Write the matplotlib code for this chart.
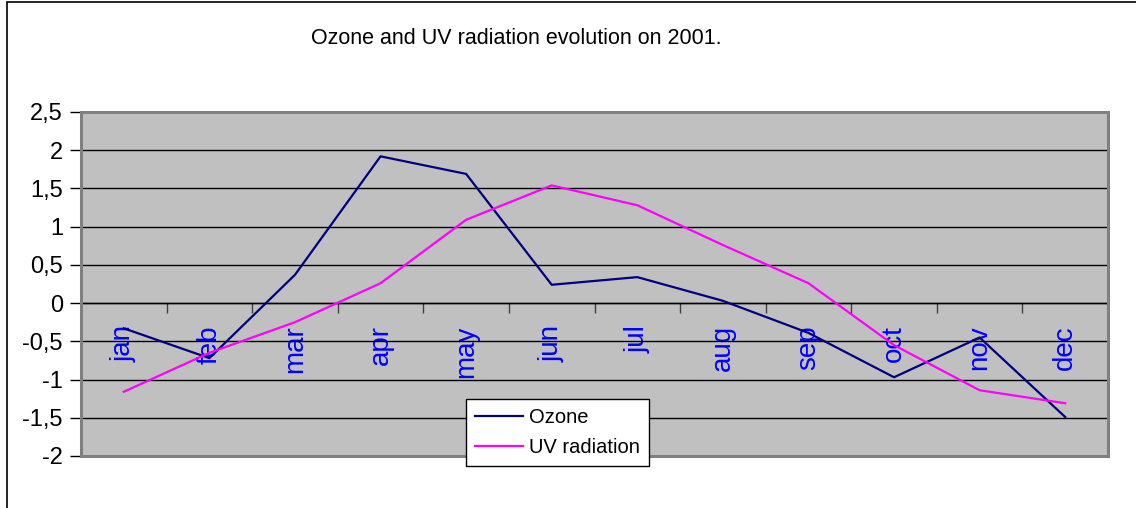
import matplotlib
matplotlib.use("Agg")
import matplotlib.pyplot as plt
from matplotlib.patches import Rectangle
from matplotlib.ticker import MultipleLocator, FixedLocator, FuncFormatter

months = ["jan", "feb", "mar", "apr", "may", "jun", "jul", "aug", "sep", "oct", "nov", "dec"]
ozone = [-0.33, -0.72, 0.37, 1.92, 1.69, 0.24, 0.34, 0.03, -0.39, -0.97, -0.45, -1.49]
uv = [-1.16, -0.65, -0.25, 0.26, 1.09, 1.54, 1.28, 0.76, 0.26, -0.55, -1.14, -1.31]
title = "Ozone and UV radiation evolution on 2001."

plt.rcParams['font.family'] = ['Liberation Sans', 'DejaVu Sans']

fig = plt.figure(figsize=(11.36, 5.08), dpi=100)
W, H = 1136, 508
ax = fig.add_axes([81 / W, 1 - 456 / H, (1108 - 81) / W, (456 - 112) / H])
ax.set_facecolor('#C0C0C0')

x = list(range(len(months)))
ax.plot(x, ozone, color='#000080', lw=1.6, label='Ozone', zorder=3)
ax.plot(x, uv, color='#FF00FF', lw=1.6, label='UV radiation', zorder=3)

ax.set_xlim(-0.5, len(months) - 0.5)
ax.set_ylim(-2, 2.5)
ax.yaxis.set_major_locator(MultipleLocator(0.5))
ax.yaxis.set_major_formatter(FuncFormatter(lambda v, p: ('%g' % v).replace('.', ',')))
ax.grid(axis='y', color='black', lw=1.0, zorder=1)
ax.set_axisbelow(True)

# x axis on the zero line
for s in ['top', 'right', 'left']:
    ax.spines[s].set_visible(False)
ax.spines['bottom'].set_position(('data', 0))
ax.spines['bottom'].set_color('black')
ax.spines['bottom'].set_linewidth(1.0)
ax.spines['bottom'].set_zorder(2)

ax.set_xticks(x)
ax.set_xticklabels(months, rotation=90, color='#0000FF', fontsize=20)
ax.tick_params(axis='x', which='major', length=0, pad=16)
ax.xaxis.set_minor_locator(FixedLocator([i - 0.5 for i in range(len(months) + 1)]))
ax.tick_params(axis='x', which='minor', length=7, width=1, color='#404040', direction='out')

ax.tick_params(axis='y', length=8, width=1, color='black', labelsize=17, pad=5)

# plot area frame
frame = Rectangle((0, 0), 1, 1, transform=ax.transAxes, fill=False,
                  edgecolor='#808080', lw=2.2, zorder=4, clip_on=False)
ax.add_patch(frame)

# outer chart border
fig.patches.append(Rectangle((7 / W, -0.05), 1.2, 1.05 - 1.5 / H, transform=fig.transFigure,
                             fill=False, edgecolor='black', lw=1.2))

fig.text(516 / W, 1 - 38 / H, title, ha='center', va='center', fontsize=15.5)

leg = fig.legend(loc='upper left', bbox_to_anchor=(466 / W, 1 - 399 / H),
                 fontsize=14.5, frameon=True, fancybox=False, edgecolor='black',
                 framealpha=1, handlelength=2.4, handletextpad=0.3, borderpad=0.45,
                 labelspacing=0.55, borderaxespad=0)
leg.get_frame().set_linewidth(1.0)

fig.savefig('out.png', dpi=100)
